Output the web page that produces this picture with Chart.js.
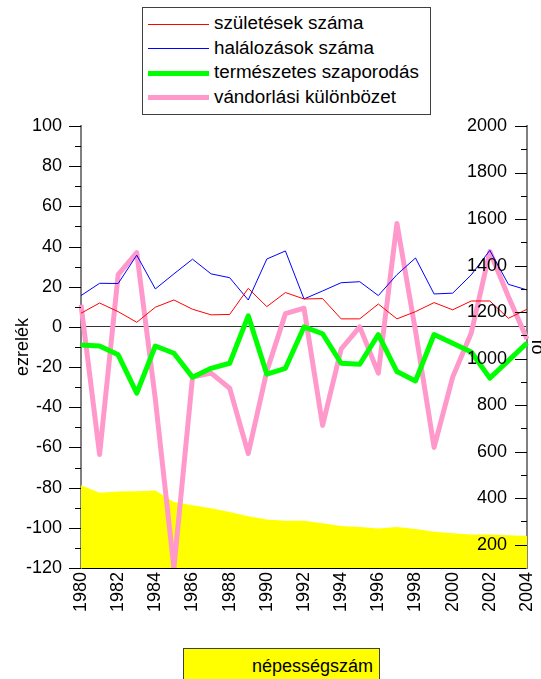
<!DOCTYPE html>
<html lang="hu">
<head>
<meta charset="utf-8">
<title>Népmozgalom</title>
<script src="https://cdn.jsdelivr.net/npm/chart.js@4.4.1/dist/chart.umd.min.js"></script>
<style>
    html, body { margin: 0; padding: 0; background: #fff; overflow: hidden; }
    #wrap { position: relative; width: 541px; height: 679px; overflow: hidden; font-family: 'Liberation Sans', Arial, sans-serif; }
    #chart { position: absolute; left: 0; top: 0; }
    .legend { position: absolute; border: 1px solid #404040; box-sizing: border-box; }
    #legendTop { left: 142px; top: 7px; width: 289px; height: 108px; background: #fff; }
    .row { position: absolute; left: 0; height: 24px; width: 100%; }
    .swatch { position: absolute; left: 5px; width: 61px; top: 50%; }
    .row span { position: absolute; left: 71px; top: 50%; transform: translateY(-52%) scaleX(1.045); transform-origin: left center; font-size: 18px; color: #000; white-space: nowrap; }
    #legendBottom { left: 183px; top: 648px; width: 197px; height: 40px; background: #ffff00; }
    #legendBottom span { position: absolute; right: 6px; top: 7px; font-size: 18px; color: #000; }
</style>
</head>
<body>
<div id="wrap">
    <canvas id="chart" width="541" height="679"></canvas>
    <div id="legendTop" class="legend"></div>
    <div id="legendBottom" class="legend"><span>népességszám</span></div>
</div>
<script>
// évek
var years = ['1980', '1981', '1982', '1983', '1984', '1985', '1986', '1987', '1988', '1989',
    '1990', '1991', '1992', '1993', '1994', '1995', '1996', '1997', '1998', '1999',
    '2000', '2001', '2002', '2003', '2004'];

// ezrelék (bal tengely)
var births = [6.8, 11.9, 7.6, 2.3, 9.8, 13.4, 8.8, 6.0, 6.2, 19.2, 10.1, 17.1, 13.9,
    14.1, 4.0, 4.0, 11.4, 4.0, 7.6, 12.1, 8.5, 12.9, 12.9, 4.3, 8.8];
var deaths = [15.6, 21.7, 21.6, 35.7, 18.9, 26.4, 33.7, 26.4, 24.5, 13.4, 33.8, 37.8, 13.9,
    17.9, 22.0, 22.5, 15.6, 26.0, 34.3, 16.4, 16.8, 25.9, 38.1, 21.2, 18.4];
var natural = [-9.0, -9.5, -13.9, -33.0, -9.5, -13.1, -25.0, -20.6, -18.1, 5.5, -23.5, -20.6, 0,
    -3.4, -18.1, -18.6, -3.8, -22.2, -26.9, -3.8, -8.1, -12.5, -25.5, -16.8, -8.0];
var migration = [11, -63.5, 26, 37, -36, -120, -25, -23, -30.5, -63, -22, 6.6, 9.3,
    -49, -11, 0, -23, 51.5, -2, -60, -25, -3, 37.5, 15, -6];

// fő (jobb tengely)
var population = [456, 424, 429, 430, 433, 384, 370, 357, 341, 322, 309, 303, 303,
    292, 281, 276, 270, 276, 268, 256, 249, 244, 244, 241, 238];

var seriesNames = ['születések száma', 'halálozások száma', 'természetes szaporodás', 'vándorlási különbözet'];
var seriesColors = ['#ff0000', '#0000ff', '#00ff00', '#ff99cc'];
var seriesWidths = [1, 1, 5, 5];

document.addEventListener('DOMContentLoaded', function () {
    Chart.defaults.font.family = "'Liberation Sans', Arial, sans-serif";
    Chart.defaults.font.size = 18;
    Chart.defaults.color = '#000';

    // HTML jelmagyarázat
    var legendTop = document.getElementById('legendTop');
    var rowTops = [4, 28.5, 53, 77.5];
    seriesNames.forEach(function (name, i) {
        var row = document.createElement('div');
        row.className = 'row';
        row.style.top = rowTops[i] + 'px';
        var sw = document.createElement('div');
        sw.className = 'swatch';
        sw.style.height = seriesWidths[i] + 'px';
        sw.style.marginTop = (-seriesWidths[i] / 2) + 'px';
        sw.style.background = seriesColors[i];
        var label = document.createElement('span');
        label.textContent = name;
        row.appendChild(sw);
        row.appendChild(label);
        legendTop.appendChild(row);
    });

    // kis és nagy osztásjelek a két függőleges tengelyen
    var tickMarks = {
        id: 'tickMarks',
        afterDraw: function (chart) {
            var ctx = chart.ctx;
            var y = chart.scales.y;
            var y1 = chart.scales.y1;
            ctx.save();
            ctx.strokeStyle = '#000';
            ctx.lineWidth = 1;
            ctx.beginPath();
            var v, p, len;
            for (v = -120; v <= 100; v += 10) {
                p = Math.round(y.getPixelForValue(v)) + 0.5;
                len = (v % 20 === 0) ? 12 : 6;
                ctx.moveTo(y.right - len, p);
                ctx.lineTo(y.right, p);
            }
            for (v = 200; v <= 2000; v += 100) {
                p = Math.round(y1.getPixelForValue(v)) + 0.5;
                len = (v % 200 === 0) ? 12 : 6;
                ctx.moveTo(y1.left - len, p);
                ctx.lineTo(y1.left, p);
            }
            ctx.stroke();
            ctx.restore();
        }
    };

    var datasets = [];
    [births, deaths, natural, migration].forEach(function (data, i) {
        datasets.push({
            label: seriesNames[i],
            data: data,
            yAxisID: 'y',
            borderColor: seriesColors[i],
            backgroundColor: seriesColors[i],
            borderWidth: seriesWidths[i],
            pointRadius: 0,
            fill: false,
            borderJoinStyle: 'round'
        });
    });
    datasets.push({
        label: 'népességszám',
        data: population,
        yAxisID: 'y1',
        borderColor: '#ffff00',
        backgroundColor: '#ffff00',
        borderWidth: 0,
        pointRadius: 0,
        fill: 'start'
    });

    var ctx = document.getElementById('chart');
    new Chart(ctx, {
        type: 'line',
        data: { labels: years, datasets: datasets },
        plugins: [tickMarks],
        options: {
            responsive: false,
            animation: false,
            layout: { padding: { top: 126, left: 0, right: 0, bottom: 0 } },
            elements: { line: { tension: 0 } },
            plugins: {
                legend: { display: false },
                tooltip: { enabled: false }
            },
            scales: {
                x: {
                    type: 'category',
                    offset: false,
                    grid: { display: false, drawTicks: false },
                    border: { color: '#000', width: 2 },
                    ticks: {
                        autoSkip: false,
                        minRotation: 90,
                        maxRotation: 90,
                        padding: 4,
                        callback: function (value, index) {
                            return index % 2 === 0 ? this.getLabelForValue(value) : '';
                        }
                    },
                    afterFit: function (scale) {
                        scale.height = 111;
                        scale.paddingLeft = 0;
                        scale.paddingRight = 0;
                    }
                },
                y: {
                    position: 'left',
                    min: -120,
                    max: 100,
                    ticks: { stepSize: 20, padding: 19 },
                    grid: {
                        drawTicks: false,
                        color: function (c) {
                            return (c.tick && c.tick.value === 0) ? '#333' : 'rgba(0,0,0,0)';
                        }
                    },
                    border: { color: '#808080', width: 2 },
                    title: { display: true, text: 'ezrelék', padding: { top: 12, bottom: 0 } },
                    afterFit: function (scale) { scale.width = 81; }
                },
                y1: {
                    position: 'right',
                    min: 100,
                    max: 2000,
                    ticks: {
                        z: 1,
                        stepSize: 200,
                        includeBounds: false,
                        mirror: true,
                        padding: -20,
                        callback: function (value) {
                            return value % 200 === 0 ? String(value) : '';
                        }
                    },
                    grid: { display: false, drawTicks: false },
                    border: { color: '#808080', width: 2 },
                    title: { display: true, text: 'fő', padding: { top: -7, bottom: 0 } },
                    afterFit: function (scale) {
                        scale.width = 14;
                        scale.paddingTop = 0;
                        scale.paddingBottom = 0;
                    }
                }
            }
        }
    });
});
</script>
</body>
</html>
